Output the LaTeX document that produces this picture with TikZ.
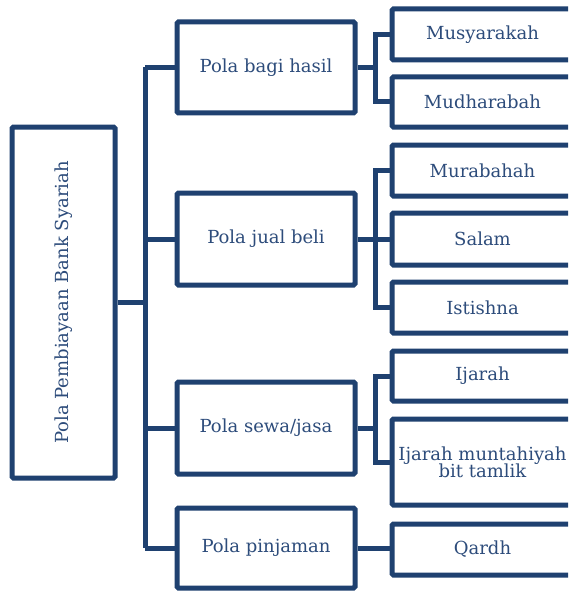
\documentclass[tikz,border=0pt]{standalone}
\usepackage{fontspec}
\setmainfont{DejaVu Serif}
\definecolor{linecol}{HTML}{1F4170}
\definecolor{textcol}{HTML}{2D4C7B}
\tikzset{
  box/.style={draw=linecol, line width=5pt, fill=white, rounded corners=1.5pt,
    text=textcol, font=\fontsize{18}{20}\selectfont, inner sep=0pt, align=center},
  lvlone/.style={box, minimum width=178pt},
  lvltwo/.style={box, minimum width=181pt},
  link/.style={draw=linecol, line width=5pt}
}
\begin{document}
\begin{tikzpicture}[x=1pt,y=-1pt]
\useasboundingbox (0,0) rectangle (568,591);
\clip (0,0) rectangle (568,591);
\fill[white] (0,0) rectangle (568,591);

\coordinate (tr) at (145,0);
\coordinate (brA) at (375,0);

% root
\node[box, minimum width=103pt, minimum height=351pt] (root) at (63.5,302.5)
  {\rotatebox{90}{Pola Pembiayaan Bank Syariah}};

% first level
\node[lvlone, minimum height=91pt] (b1) at (266,67.5) {Pola bagi hasil};
\node[lvlone, minimum height=92pt] (b2) at (266,239) {Pola jual beli};
\node[lvlone, minimum height=92pt] (b3) at (266,428) {Pola sewa/jasa};
\node[lvlone, minimum height=80pt] (b4) at (266,548) {Pola pinjaman};

% second level
\node[lvltwo, minimum height=51pt] (c1) at (482.5,34.5) {Musyarakah};
\node[lvltwo, minimum height=50pt] (c2) at (482.5,102) {Mudharabah};
\node[lvltwo, minimum height=51pt] (c3) at (482.5,170.5) {Murabahah};
\node[lvltwo, minimum height=52pt] (c4) at (482.5,239) {Salam};
\node[lvltwo, minimum height=51pt] (c5) at (482.5,307.5) {Istishna};
\node[lvltwo, minimum height=50pt] (c6) at (482.5,376) {Ijarah};
\node[lvltwo, minimum height=86pt] (c7) at (482.5,462) {Ijarah muntahiyah\\[-3pt]bit tamlik};
\node[lvltwo, minimum height=51pt] (c8) at (482.5,549.5) {Qardh};

% trunk from the root to the first level
\draw[link] (root.east) -- (root.east -| tr);
\draw[link] (b1.west -| tr) -- (b4.west -| tr);
\foreach \n in {b1,b2,b3,b4} \draw[link] (\n.west -| tr) -- (\n.west);

% brackets from the first level to the second level
\draw[link] (b1.east) -- (b1.east -| brA);
\draw[link] (c1.west) -- (c1.west -| brA) -- (c2.west -| brA) -- (c2.west);
\draw[link] (b2.east) -- (c4.west);
\draw[link] (c3.west) -- (c3.west -| brA) -- (c5.west -| brA) -- (c5.west);
\draw[link] (b3.east) -- (b3.east -| brA);
\draw[link] (c6.west) -- (c6.west -| brA) -- (c7.west -| brA) -- (c7.west);
\draw[link] (b4.east) -- (b4.east -| c8.west);
\end{tikzpicture}
\end{document}
